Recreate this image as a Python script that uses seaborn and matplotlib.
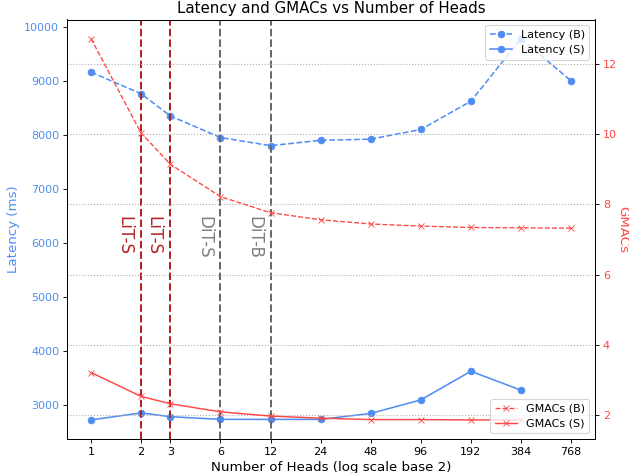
from matplotlib import pyplot as plt
import numpy as np
import seaborn as sns
import pandas as pd

# number of heads (x axis, log2 scale)
heads = [1, 2, 3, 6, 12, 24, 48, 96, 192, 384, 768]
heads_s = [1, 2, 3, 6, 12, 24, 48, 96, 192, 384]  # small model stops at 384

# latency in ms
latency_b = [9160, 8760, 8350, 7950, 7800, 7900, 7920, 8100, 8620, 9780, 9000]
latency_s = [2730, 2860, 2790, 2740, 2740, 2740, 2850, 3100, 3630, 3280]

# GMACs
gmacs_b = [12.72, 10.03, 9.14, 8.22, 7.76, 7.56, 7.44, 7.38, 7.34, 7.33, 7.32]
gmacs_s = [3.21, 2.53, 2.32, 2.09, 1.97, 1.91, 1.87, 1.87, 1.86, 1.86]

# reference models marked with vertical lines
ref_heads = [2, 3, 6, 12]
ref_names = ['LiT-S', 'LiT-S', 'DiT-S', 'DiT-B']

lat_color = '#4f8cf2'
gm_color = '#ff4545'

fig = plt.figure(figsize=(629 / 80, 473 / 80), dpi=80)
ax1 = fig.add_subplot(111)
fig.subplots_adjust(left=67 / 629, right=595 / 629, bottom=1 - 439 / 473, top=1 - 19.5 / 473)

#latency on the left axis
sns.lineplot(x=heads, y=latency_b, ax=ax1, color=lat_color, linestyle='--', marker='o',
             markeredgecolor=lat_color, linewidth=1.4, label='Latency (B)')
sns.lineplot(x=heads_s, y=latency_s, ax=ax1, color=lat_color, linestyle='-', marker='o',
             markeredgecolor=lat_color, linewidth=1.4, label='Latency (S)')
ax1.set_xscale('log', base=2)
ax1.set_xticks(heads)
ax1.set_xticklabels([str(h) for h in heads])
ax1.minorticks_off()
ax1.tick_params(labelsize=10)
ax1.set_xlabel('Number of Heads (log scale base 2)', fontsize=12)
ax1.set_ylabel('Latency (ms)', color=lat_color, fontsize=12)
ax1.tick_params(axis='y', labelcolor=lat_color)

#vertical lines for the reference models
for h, name in zip(ref_heads, ref_names):
    c = '#b22222' if name.startswith('LiT') else 'dimgray'
    tc = '#b22222' if name.startswith('LiT') else 'gray'
    ax1.axvline(h, color=c, linestyle='--', linewidth=1.8)
    ax1.text(h * 2 ** -0.15, 6500, name, rotation=270, va='top', ha='right',
             fontsize=15, color=tc)

ax1.legend(loc='upper right', fontsize=10)

#GMACs on the right axis
ax2 = ax1.twinx()
sns.lineplot(x=heads, y=gmacs_b, ax=ax2, color=gm_color, linestyle='--', marker='x',
             markeredgecolor=gm_color, linewidth=1.2, label='GMACs (B)')
sns.lineplot(x=heads_s, y=gmacs_s, ax=ax2, color=gm_color, linestyle='-', marker='x',
             markeredgecolor=gm_color, linewidth=1.3, label='GMACs (S)')
ax2.set_ylabel('GMACs', color=gm_color, rotation=270, labelpad=11, fontsize=12)
ax2.tick_params(axis='y', labelcolor=gm_color, labelsize=10)
ax2.grid(axis='y', linestyle=':', color='#b0b0b0', linewidth=1)
ax2.legend(loc='lower right', fontsize=10)

plt.title('Latency and GMACs vs Number of Heads', fontsize=13.5)
plt.savefig('out.png', dpi=80)
